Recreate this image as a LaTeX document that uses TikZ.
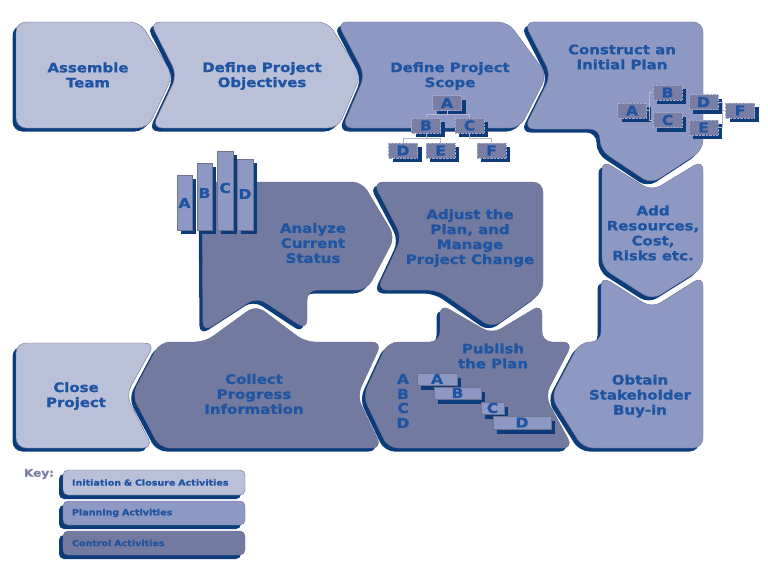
\documentclass[tikz,border=0pt]{standalone}
\usepackage{fontspec}
\newfontfamily\lblfont{DejaVu Sans}[FakeStretch=1.15, BoldFeatures={FakeBold=1.3}]
\usetikzlibrary{shadows}
\definecolor{cinit}{HTML}{BBC0D9}
\definecolor{cplan}{HTML}{8E99C3}
\definecolor{cctrl}{HTML}{737A9F}
\definecolor{cshad}{HTML}{0C3C7C}
\definecolor{ctext}{HTML}{1F54A2}
\definecolor{cedge}{HTML}{6E7391}
\definecolor{cbox}{HTML}{787EA4}
\definecolor{cboxedge}{HTML}{A4A9C6}
\definecolor{ckey}{HTML}{7C81A6}
\definecolor{ctline}{HTML}{B3B7D0}
\newcommand\procblock[2]{%
  \fill[cshad, rounded corners=10pt, shift={(-3.5,3.5)}] #2;
  \filldraw[fill=#1, draw=cedge, line width=0.4pt, rounded corners=10pt] #2;
}
\newcommand\ltrfont{\lblfont\bfseries\fontsize{13.5}{14}\selectfont}
\tikzset{
  lbl/.style={text=ctext, font=\lblfont\bfseries\fontsize{13}{15}\selectfont, align=center, inner sep=0pt},
  ltr/.style={text=ctext, font=\ltrfont, inner sep=0pt},
  lbox/.style={fill=cbox, draw=cboxedge, densely dotted, line width=0.4pt, minimum width=29pt, minimum height=15pt, inner sep=0pt, text=ctext, font=\ltrfont, general shadow={fill=cshad, shadow xshift=4pt, shadow yshift=-4pt}},
  barbox/.style={fill=cplan, draw=cedge, line width=0.4pt, minimum width=15pt, inner sep=0pt, general shadow={fill=cshad, shadow xshift=4pt, shadow yshift=-4pt}},
  gbox/.style={fill=cplan, draw=cedge, line width=0.4pt, minimum height=12pt, inner sep=0pt, text=ctext, font=\ltrfont, general shadow={fill=cshad, shadow xshift=4pt, shadow yshift=-5pt}},
  tline/.style={draw=ctline, line width=0.5pt},
  keybox/.style={rounded corners=5pt, draw=cedge, line width=0.4pt, minimum height=24pt, text width=164pt, inner xsep=9pt, align=left, text=ctext, font=\lblfont\bfseries\fontsize{8.3}{9}\selectfont, general shadow={fill=cshad, shadow xshift=-4pt, shadow yshift=-4pt}}
}
\begin{document}
\begin{tikzpicture}[x=1pt,y=-1pt]
\useasboundingbox (0,0) rectangle (768,578);
% ---- top row ----
\procblock{cinit}{(16,22) -- (140,22) -- (173,75) -- (148,128) -- (16,128) -- cycle}
\procblock{cinit}{(150,22) -- (328,22) -- (361,75) -- (338,128) -- (152,128) -- (177,75) -- cycle}
\procblock{cplan}{(337,22) -- (508,22) -- (547,75) -- (520,128) -- (342,128) -- (365,75) -- cycle}
\procblock{cplan}{(524,22) -- (703,22) -- (703,150) -- (651,184) -- (600,150) -- (600,129) -- (524,129) -- (551,75) -- cycle}
% ---- right column ----
\procblock{cplan}{(602,160) -- (652,191) -- (703,160) -- (703,268) -- (652,300) -- (602,268) -- cycle}
% ---- bottom row ----
\procblock{cinit}{(16,343) -- (155,343) -- (126,395) -- (153,448) -- (16,448) -- cycle}
\procblock{cctrl}{(160,342) -- (205,342) -- (256,305) -- (305,342) -- (382,342) -- (357,396) -- (382,448) -- (160,448) -- (132,395) -- cycle}
\procblock{cctrl}{(388,342) -- (440,342) -- (440,304) -- (492,334) -- (542,304) -- (542,342) -- (573,342) -- (545,396) -- (573,448) -- (388,448) -- (363,396) -- cycle}
\procblock{cplan}{(601,276) -- (652,308) -- (703,276) -- (703,448) -- (583,448) -- (551,397) -- (580,342) -- (601,342) -- cycle}
% ---- middle row ----
\procblock{cctrl}{(202,182) -- (362,182) -- (395,237) -- (367,290) -- (307,290) -- (307,330) -- (257,297) -- (203,332) -- cycle}
\procblock{cctrl}{(373,182) -- (543,182) -- (543,292) -- (492,328) -- (438,290) -- (377,290) -- (402,237) -- cycle}

% ---- labels ----
\node[lbl] (tAssemble) at (88,75) {Assemble\\Team};
\node[lbl] (tObjectives) at (262,76) {Define Project\\Objectives};
\node[lbl] (tScope) at (450,76) {Define Project\\Scope};
\node[lbl] (tConstruct) at (622,57) {Construct an\\Initial Plan};
\node[lbl] (tAdd) at (653,233) {Add\\Resources,\\Cost,\\Risks etc.};
\node[lbl] (tObtain) at (640,396) {Obtain\\Stakeholder\\Buy-in};
\node[lbl] (tAnalyze) at (313,243) {Analyze\\Current\\Status};
\node[lbl] (tAdjust) at (470,238) {Adjust the\\Plan, and\\Manage\\Project Change};
\node[lbl] (tPublish) at (493,356) {Publish\\the Plan};
\node[lbl] (tCollect) at (254,394) {Collect\\Progress\\Information};
\node[lbl] (tClose) at (76,396) {Close\\Project};

% ---- scope tree ----
\node[lbox] (sA) at (447,103) {A};
\node[lbox] (sB) at (426,125.5) {B};
\node[lbox] (sC) at (469.5,125.5) {C};
\node[lbox] (sD) at (403,150.5) {D};
\node[lbox] (sE) at (440.5,150.5) {E};
\node[lbox] (sF) at (491.5,150.5) {F};
\draw[tline] (sA.south) -- ++(0,4) -| (sB.north);
\draw[tline] (sA.south) ++(0,4) -| (sC.north);
\draw[tline] (sB.south) -- ++(0,5) -| (sD.north);
\draw[tline] (sB.south) ++(0,5) -| (sE.north);
\draw[tline] (sC.south) -- ++(0,5) -| (sF.north);

% ---- construct tree ----
\node[lbox] (cA) at (632,110.5) {A};
\node[lbox] (cB) at (667.5,92.5) {B};
\node[lbox] (cC) at (667.5,120) {C};
\node[lbox] (cD) at (703.5,102) {D};
\node[lbox] (cE) at (703.5,127.5) {E};
\node[lbox] (cF) at (740,110.5) {F};
\draw[tline] (cA.east) -- ++(3,0) |- (cB.west);
\draw[tline] (cA.east) ++(3,0) |- (cC.west);
\draw[tline] (cD.east) -- ++(4,0) |- (cF.west);
\draw[tline] (cE.east) -- ++(4,0) |- (cF.west);

% ---- analyze bars ----
\node[barbox, minimum height=55pt] (barA) at (184.5,202.5) {};
\node[barbox, minimum height=67pt] (barB) at (204.5,196.5) {};
\node[barbox, minimum height=79pt, minimum width=16pt] (barC) at (225,190.5) {};
\node[barbox, minimum height=71pt, minimum width=16pt] (barD) at (245,194.5) {};
\node[ltr] (lbA) at (184.5,203) {A};
\node[ltr] (lbB) at (204.5,193) {B};
\node[ltr] (lbC) at (225,188) {C};
\node[ltr] (lbD) at (245,194) {D};

% ---- publish gantt ----
\node[ltr] (gl1) at (403,379) {A};
\node[ltr] (gl2) at (403,394) {B};
\node[ltr] (gl3) at (403,408) {C};
\node[ltr] (gl4) at (403,423) {D};
\node[gbox, minimum width=40pt] (gA) at (437,379) {A};
\node[gbox, minimum width=47pt] (gB) at (457.5,393) {B};
\node[gbox, minimum width=23pt] (gC) at (492.5,408) {C};
\node[gbox, minimum width=58pt, minimum height=13pt] (gD) at (522,422.5) {D};

% ---- key ----
\node[text=ckey, font=\lblfont\bfseries\fontsize{10.5}{11}\selectfont, inner sep=0pt] (keyT) at (39,474) {Key:};
\node[keybox, fill=cinit, minimum height=25pt] (k1) at (154,482.5) {Initiation \& Closure Activities};
\node[keybox, fill=cplan] (k2) at (154,513) {Planning Activities};
\node[keybox, fill=cctrl] (k3) at (154,543) {Control Activities};
\end{tikzpicture}
\end{document}
